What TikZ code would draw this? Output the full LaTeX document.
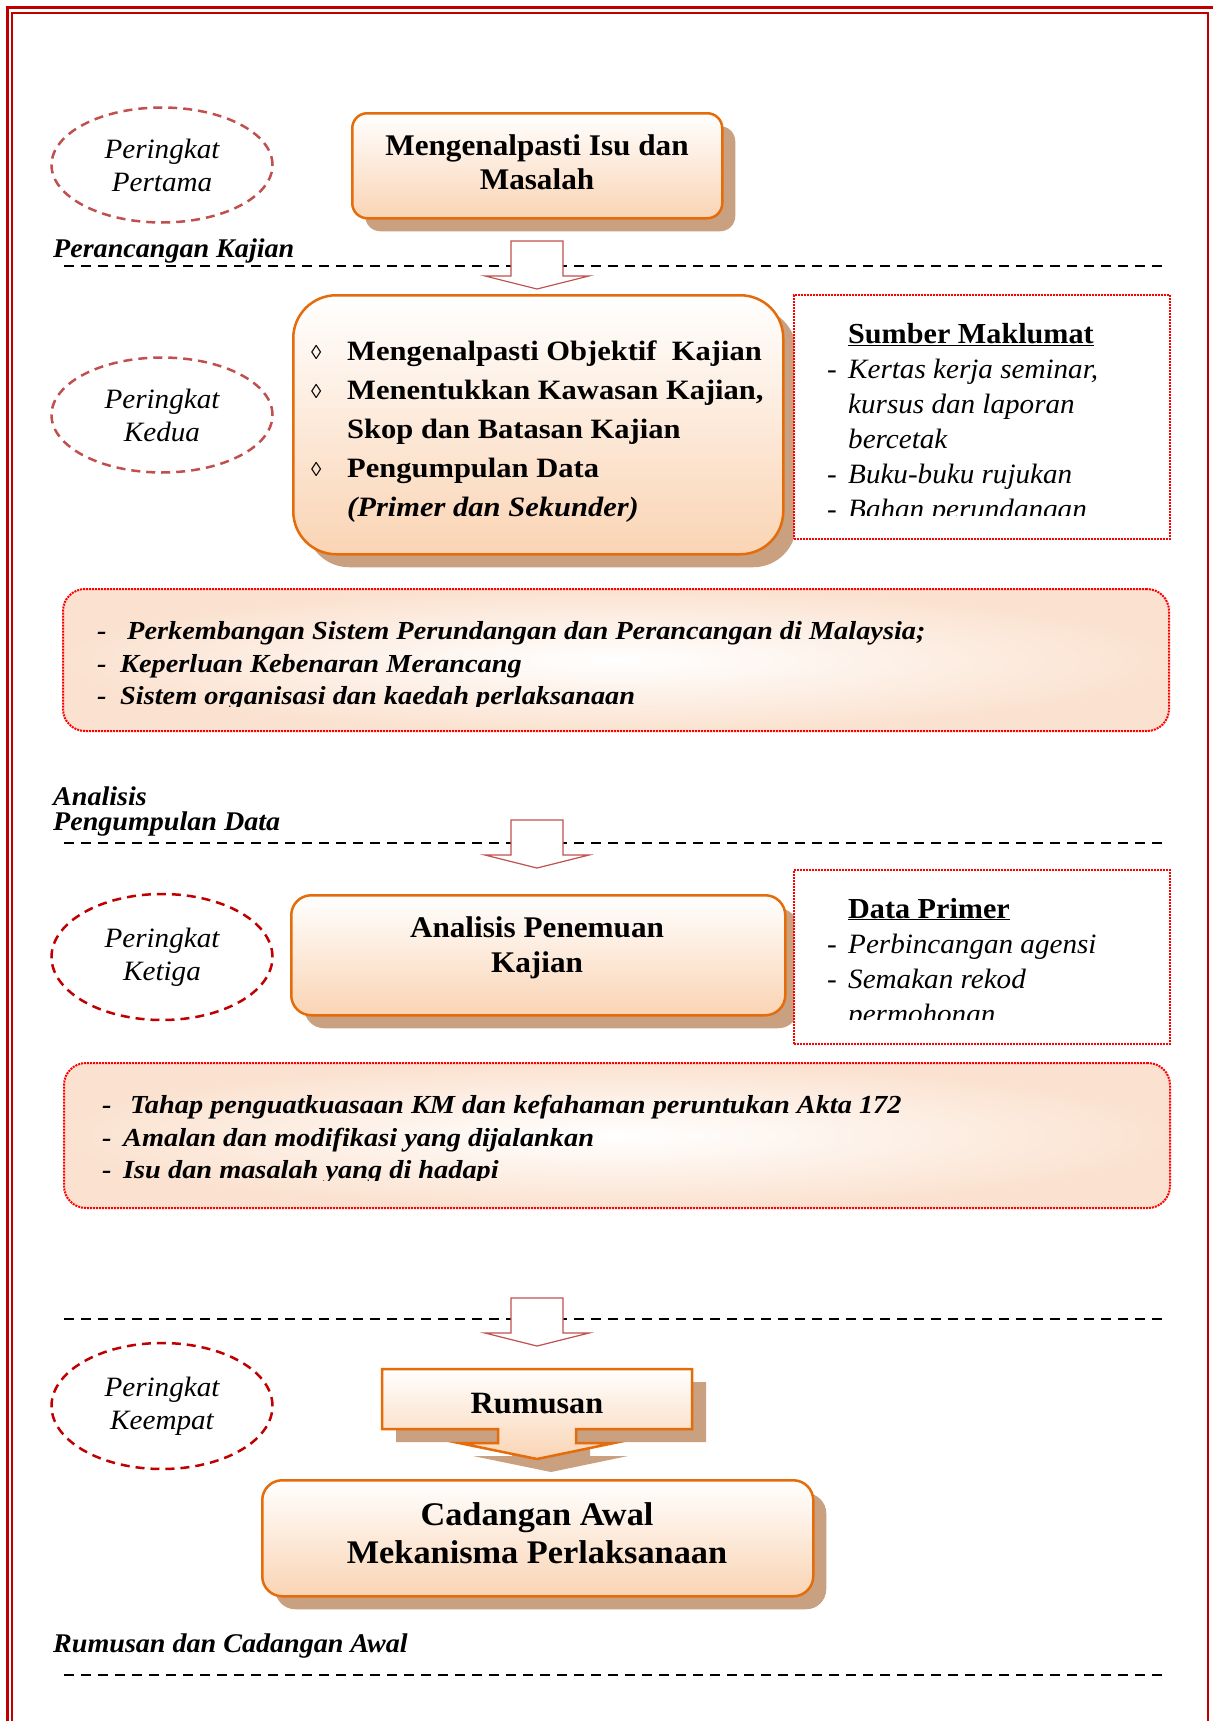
\documentclass[tikz,border=0pt]{standalone}
\usepackage{fontspec}
\setmainfont{Liberation Serif}[FakeStretch=1.04]
\newfontfamily\widefont{Liberation Serif}[FakeStretch=1.09]
\usetikzlibrary{shapes.geometric,shadows,positioning}

\definecolor{framered}{RGB}{192,0,0}
\definecolor{softred}{RGB}{192,80,77}
\definecolor{boxorange}{RGB}{228,108,10}
\definecolor{peach}{RGB}{250,212,180}
\definecolor{peachpale}{RGB}{251,226,208}
\definecolor{shadowtan}{RGB}{201,160,128}

\newcommand{\fs}[2]{\fontsize{#1}{#2}\selectfont}

\begin{document}
\begin{tikzpicture}[x=1pt, y=-1pt,
    stage/.style={ellipse, draw=softred, line width=2.5pt, dash pattern=on 9pt off 6pt,
        minimum width=221pt, minimum height=115pt, align=center, font=\fs{28}{33}\itshape},
    stagedark/.style={stage, draw=framered, minimum height=126pt},
    stepbox/.style={draw=boxorange, line width=2.5pt, top color=white, bottom color=peach, anchor=north west,
        drop shadow={opacity=1, fill=shadowtan, shadow xshift=13pt, shadow yshift=-13pt}},
    infobox/.style={draw=red, densely dotted, line width=2pt, fill=white, anchor=north west},
    widebox/.style={draw=red, densely dotted, line width=2pt, rounded corners=22pt,
        inner color=white, outer color=peachpale, anchor=north west},
    divider/.style={line width=2.5pt, dash pattern=on 10pt off 7pt},
    txt/.style={inner sep=0pt, anchor=base west},
    phase/.style={txt, font=\fs{27}{24}\bfseries\itshape},
    boxtitle/.style={inner sep=0pt, anchor=base, font=\fs{30}{34}\bfseries},
    itembold/.style={txt, font=\widefont\fs{28}{39}\bfseries},
    iteminfo/.style={txt, font=\fs{28}{35}\itshape},
    itemwide/.style={txt, font=\widefont\fs{26}{33}\bfseries\itshape}]
    \useasboundingbox (0,0) rectangle (1213,1721);

    % page frame
    \draw [framered, line width=3pt] (7,1721) -- (7,7) -- (1213,7);
    \draw [framered, line width=2pt] (12,1721) -- (12,13) -- (1208,13) -- (1208,1721);

    % dividers and block arrows
    \foreach \y in {266,843,1319,1675}
        \draw [divider] (64,\y) -- (1167,\y);
    \foreach \t in {241,820,1298}
        \draw [softred, line width=1.2pt, fill=white] (511,\t) -- (563,\t) -- (563,{\t+35}) -- (589,{\t+35})
            -- (537,{\t+48}) -- (485,{\t+35}) -- (511,{\t+35}) -- cycle;

    \node [phase] (perancangan) at (53,257) {Perancangan Kajian};
    \node [phase] (analisislabel) at (53,805) {Analisis};
    \node [phase] (pengumpulan) at (53,830) {Pengumpulan Data};
    \node [phase] (rumusanlabel) at (53,1652) {Rumusan dan Cadangan Awal};

    % stages
    \node [stage] (pertama) at (162,165) {Peringkat\\Pertama};
    \node [stage] (kedua) at (162,415) {Peringkat\\Kedua};
    \node [stagedark] (ketiga) at (162,957) {Peringkat\\Ketiga};
    \node [stagedark] (keempat) at (162,1406) {Peringkat\\Keempat};

    % peringkat pertama
    \node [stepbox, rounded corners=15pt, minimum width=370pt, minimum height=105pt] (isu) at (351,112) {};
    \node [boxtitle] (isu1) at (537,155) {Mengenalpasti Isu dan};
    \node [boxtitle] (isu2) at (537,189) {Masalah};

    % peringkat kedua
    \node [stepbox, rounded corners=43pt, minimum width=490pt, minimum height=259pt] (objektif) at (292,294) {};
    \foreach \i in {0,1,3}
        \node [txt, font=\fs{20}{20}] (dia\i) at (311,{359+39*\i}) {◊};
    \foreach \txt [count=\i from 0] in {{Mengenalpasti Objektif\ \ Kajian}, {Menentukkan Kawasan Kajian,},
            {Skop dan Batasan Kajian}, {Pengumpulan Data}, {\itshape (Primer dan Sekunder)}}
        \node [itembold] (obj\i) at (347,{360+39*\i}) {\txt};

    \node [infobox, minimum width=376pt, minimum height=244pt] (sumber) at (793,294) {};
    \begin{scope}
        \clip (793,294) rectangle (1169,515);
        \node [txt, font=\fs{29}{35}\bfseries] (sumberhead) at (848,343) {\underline{Sumber Maklumat}};
        \foreach \y in {378,483,518}
            \node [txt, font=\fs{28}{35}] at (827,\y) {-};
        \foreach \txt [count=\i] in {{Kertas kerja seminar,}, {kursus dan laporan}, {bercetak},
                {Buku-buku rujukan}, {Bahan perundangan}}
            \node [iteminfo] (sumber\i) at (848,{343+35*\i}) {\txt};
    \end{scope}

    \node [widebox, minimum width=1106pt, minimum height=142pt] (latar) at (62,588) {};
    \begin{scope}
        \clip (62,588) rectangle (1168,706);
        \foreach \y in {639,672,704}
            \node [itemwide] at (97,\y) {-};
        \foreach \x/\y/\txt [count=\i] in {127/639/{Perkembangan Sistem Perundangan dan Perancangan di Malaysia;},
                120/672/{Keperluan Kebenaran Merancang}, 120/704/{Sistem organisasi dan kaedah perlaksanaan}}
            \node [itemwide] (latar\i) at (\x,\y) {\txt};
    \end{scope}

    % peringkat ketiga
    \node [stepbox, rounded corners=20pt, minimum width=494pt, minimum height=120pt] (analisis) at (290,894) {};
    \node [boxtitle] (analisis1) at (537,937) {Analisis Penemuan};
    \node [boxtitle] (analisis2) at (537,972) {Kajian};

    \node [infobox, minimum width=376pt, minimum height=174pt] (primer) at (793,869) {};
    \begin{scope}
        \clip (793,869) rectangle (1169,1019);
        \node [txt, font=\fs{29}{35}\bfseries] (primerhead) at (848,918) {\underline{Data Primer}};
        \foreach \y in {953,988}
            \node [txt, font=\fs{28}{35}] at (827,\y) {-};
        \foreach \txt [count=\i] in {{Perbincangan agensi}, {Semakan rekod}, {permohonan}}
            \node [iteminfo] (primer\i) at (848,{918+35*\i}) {\txt};
    \end{scope}

    \node [widebox, minimum width=1106pt, minimum height=145pt] (amalan) at (63,1062) {};
    \begin{scope}
        \clip (63,1062) rectangle (1169,1180);
        \foreach \y in {1113,1146,1178}
            \node [itemwide] at (102,\y) {-};
        \foreach \x/\y/\txt [count=\i] in {130/1113/{Tahap penguatkuasaan KM dan kefahaman peruntukan Akta 172},
                123/1146/{Amalan dan modifikasi yang dijalankan}, 123/1178/{Isu dan masalah yang di hadapi}}
            \node [itemwide] (amalan\i) at (\x,\y) {\txt};
    \end{scope}

    % peringkat keempat
    \fill [shadowtan, shift={(14,13)}] (382,1369) -- (692,1369) -- (692,1429) -- (576,1429) -- (576,1443) -- (614,1443)
        -- (537,1459) -- (459,1443) -- (498,1443) -- (498,1429) -- (382,1429) -- cycle;
    \draw [boxorange, line width=2.5pt, top color=white, bottom color=peach] (382,1369) -- (692,1369) -- (692,1429)
        -- (576,1429) -- (576,1443) -- (614,1443) -- (537,1459) -- (459,1443) -- (498,1443) -- (498,1429)
        -- (382,1429) -- cycle;
    \node [boxtitle, font=\fs{31}{31}\bfseries] (rumusan) at (537,1413) {Rumusan};

    \node [stepbox, rounded corners=20pt, minimum width=551pt, minimum height=116pt] (cadangan) at (261,1479) {};
    \node [boxtitle, font=\fs{33}{38}\bfseries] (cadangan1) at (537,1525) {Cadangan Awal};
    \node [boxtitle, font=\fs{33}{38}\bfseries] (cadangan2) at (537,1563) {Mekanisma Perlaksanaan};
\end{tikzpicture}
\end{document}
